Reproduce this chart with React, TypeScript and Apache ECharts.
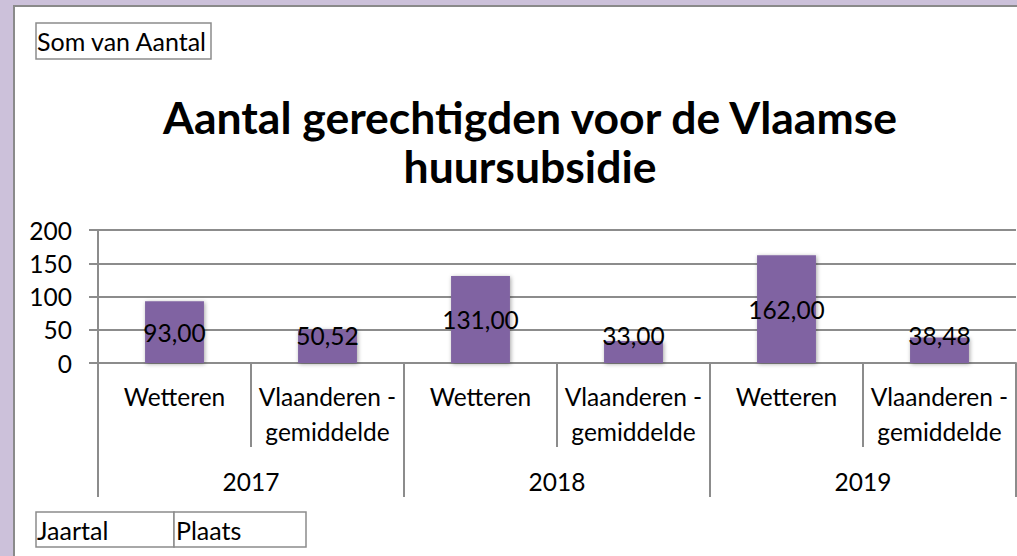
import React, { useEffect, useRef } from "react";
import * as echarts from "echarts";

const years = ["2017", "2018", "2019"];
const places = ["Wetteren", "Vlaanderen -\ngemiddelde"];
const categories = years.flatMap(() => places);
const values = [93.0, 50.52, 131.0, 33.0, 162.0, 38.48];
const yMin = 0;
const yMax = 200;
const yStep = 50;
const titleText = "Aantal gerechtigden voor de Vlaamse\nhuursubsidie";
const valueFieldLabel = "Som van Aantal";
const axisFieldLabels = ["Jaartal", "Plaats"];

const FONT = "Lato, 'Noto Sans', sans-serif";
const GRAY = "#8c8c8c";
const BAR = "#8064A2";
const FS = 24.5;

const fmt = (v: number) => v.toFixed(2).replace(".", ",");

export default function App() {
  const ref = useRef<HTMLDivElement>(null);
  useEffect(() => {
    if (!ref.current) return;
    const chart = echarts.init(ref.current, null, { renderer: "svg" });
    const option: any = {
      animation: false,
      textStyle: { fontFamily: FONT },
      grid: { left: 98, top: 230, width: 918, height: 133, containLabel: false },
      xAxis: [
        {
          type: "category",
          position: "bottom",
          data: categories,
          axisLine: { show: true, lineStyle: { color: GRAY, width: 2 } },
          axisTick: { show: true, length: 84, lineStyle: { color: GRAY, width: 2 } },
          axisLabel: {
            interval: 0,
            margin: 16,
            fontSize: FS,
            lineHeight: 35,
            color: "#000",
            fontFamily: FONT,
          },
        },
        {
          type: "category",
          position: "bottom",
          data: years,
          axisLine: { show: false },
          axisTick: { show: true, length: 134, lineStyle: { color: GRAY, width: 2 } },
          axisLabel: {
            interval: 0,
            margin: 101,
            fontSize: FS,
            lineHeight: 35,
            color: "#000",
            fontFamily: FONT,
          },
        },
      ],
      yAxis: {
        type: "value",
        min: yMin,
        max: yMax,
        interval: yStep,
        axisLine: { show: true, lineStyle: { color: GRAY, width: 2 } },
        axisTick: { show: true, length: 9, lineStyle: { color: GRAY, width: 2 } },
        axisLabel: { margin: 26, fontSize: FS, color: "#000", fontFamily: FONT },
        splitLine: { show: true, lineStyle: { color: GRAY, width: 2 } },
      },
      series: [
        {
          type: "bar",
          xAxisIndex: 0,
          barWidth: "38.5%",
          itemStyle: {
            color: BAR,
            shadowBlur: 4,
            shadowColor: "rgba(0,0,0,0.35)",
            shadowOffsetX: 1,
            shadowOffsetY: 1,
          },
          data: values.map((v) => ({
            value: v,
            label:
              v < 60
                ? { position: "insideBottom", distance: 15 }
                : { position: "inside" },
          })),
          label: {
            show: true,
            color: "#000",
            fontSize: FS,
            lineHeight: 26,
            fontFamily: FONT,
            formatter: (p: any) => fmt(p.value),
          },
        },
      ],
      graphic: [
        {
          type: "text",
          x: 530,
          y: 141,
          style: {
            text: titleText,
            fontFamily: FONT,
            fontWeight: "bold",
            fontSize: 44.5,
            lineHeight: 49,
            fill: "#000",
            textAlign: "center",
            textVerticalAlign: "middle",
          },
        },
        {
          type: "rect",
          shape: { x: 36, y: 23, width: 175, height: 36 },
          style: { fill: "#fff", stroke: GRAY, lineWidth: 1.5 },
        },
        {
          type: "text",
          x: 37,
          y: 41,
          style: {
            text: valueFieldLabel,
            fontFamily: FONT,
            fontSize: 25,
            fill: "#000",
            textAlign: "left",
            textVerticalAlign: "middle",
          },
        },
        {
          type: "rect",
          shape: { x: 36, y: 512, width: 138, height: 35 },
          style: { fill: "#fff", stroke: GRAY, lineWidth: 1.5 },
        },
        {
          type: "rect",
          shape: { x: 174, y: 512, width: 132, height: 35 },
          style: { fill: "#fff", stroke: GRAY, lineWidth: 1.5 },
        },
        {
          type: "text",
          x: 37,
          y: 530,
          style: {
            text: axisFieldLabels[0],
            fontFamily: FONT,
            fontSize: 25,
            fill: "#000",
            textAlign: "left",
            textVerticalAlign: "middle",
          },
        },
        {
          type: "text",
          x: 176,
          y: 530,
          style: {
            text: axisFieldLabels[1],
            fontFamily: FONT,
            fontSize: 25,
            fill: "#000",
            textAlign: "left",
            textVerticalAlign: "middle",
          },
        },
      ],
    };
    chart.setOption(option);
    return () => chart.dispose();
  }, []);

  return (
    <div
      style={{
        position: "absolute",
        left: 0,
        top: 0,
        width: 1017,
        height: 556,
        background: "#CCC1DA",
        overflow: "hidden",
      }}
    >
      <div
        style={{
          position: "absolute",
          left: 13,
          top: 5,
          width: 1017 - 13,
          height: 556 - 5,
          background: "#fff",
          borderTop: "2px solid #8a8a8a",
          borderLeft: "2px solid #8a8a8a",
          boxSizing: "border-box",
        }}
      />
      <div
        ref={ref}
        style={{ position: "absolute", left: 0, top: 0, width: 1017, height: 556 }}
      />
    </div>
  );
}
